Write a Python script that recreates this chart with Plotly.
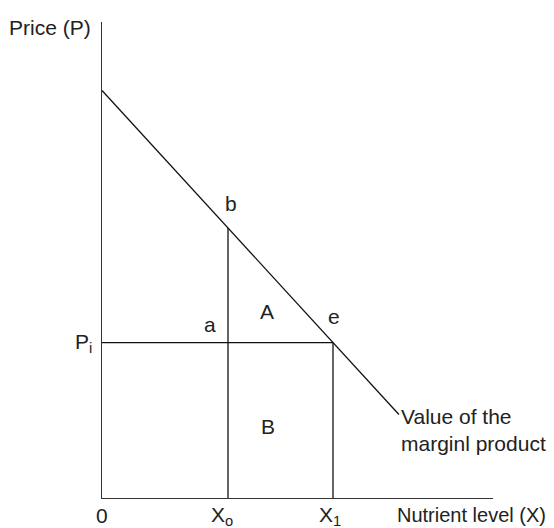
import plotly.graph_objects as go

# Values (abstract units)
vmp_x = [0.0, 7.07]          # value of marginal product curve, x ends
vmp_intercept = 9.7          # price-axis intercept
vmp_slope = -1.0909          # slope of VMP line
x_levels = {"X0": 3.0, "X1": 5.5}
price_level = 3.7            # P_i

vmp_y = [vmp_intercept + vmp_slope * x for x in vmp_x]
x0 = x_levels["X0"]
x1 = x_levels["X1"]
b_y = vmp_intercept + vmp_slope * x0

XR = [0, 9.31]
YR = [0, 11.33]

LINE = "#111111"
TXT = "#222222"
FONT = "Liberation Sans, Arial, sans-serif"
FS = 21

fig = go.Figure()
fig.add_trace(go.Scatter(x=vmp_x, y=vmp_y, mode="lines",
                         line=dict(color=LINE, width=1.3), hoverinfo="skip"))
fig.add_trace(go.Scatter(x=[x0, x0], y=[0, b_y], mode="lines",
                         line=dict(color=LINE, width=1.3), hoverinfo="skip"))
fig.add_trace(go.Scatter(x=[0, x1], y=[price_level, price_level], mode="lines",
                         line=dict(color=LINE, width=1.3), hoverinfo="skip"))
fig.add_trace(go.Scatter(x=[x1, x1], y=[0, price_level], mode="lines",
                         line=dict(color=LINE, width=1.3), hoverinfo="skip"))

ann = [
    dict(text="Price (P)", x=-2.26, y=11.21, xanchor="left"),
    dict(text="b", x=3.08, y=7.0),
    dict(text="A", x=3.92, y=4.43),
    dict(text="e", x=5.52, y=4.33),
    dict(text="a", x=2.57, y=4.12),
    dict(text="B", x=3.95, y=1.71),
    dict(text="P<sub>i</sub>", x=-0.19, y=3.69, xanchor="right"),
    dict(text="0", x=0.0, y=-0.41),
    dict(text="X<sub>o</sub>", x=2.86, y=-0.44),
    dict(text="X<sub>1</sub>", x=5.42, y=-0.44),
    dict(text="Nutrient level (X)", x=6.97, y=-0.41, xanchor="left", size=20),
    dict(text="Value of the<br>marginl product", x=7.07, y=1.62,
         xanchor="left", align="left"),
]
for a in ann:
    a.setdefault("xanchor", "center")
    a.setdefault("yanchor", "middle")
    size = a.pop("size", FS)
    a["x"] = (a["x"] - XR[0]) / (XR[1] - XR[0])
    a["y"] = (a["y"] - YR[0]) / (YR[1] - YR[0])
    fig.add_annotation(xref="paper", yref="paper", showarrow=False,
                       font=dict(family=FONT, size=size, color=TXT), **a)

fig.update_layout(
    width=554, height=528,
    margin=dict(l=94, r=69, t=14, b=38),
    paper_bgcolor="white", plot_bgcolor="white",
    showlegend=False,
    xaxis=dict(range=XR, showline=True, linecolor="#333333", linewidth=1.2,
               showgrid=False, zeroline=False, showticklabels=False, ticks=""),
    yaxis=dict(range=YR, showline=True, linecolor="#333333", linewidth=1.2,
               showgrid=False, zeroline=False, showticklabels=False, ticks=""),
)
fig.write_html("out.html")
